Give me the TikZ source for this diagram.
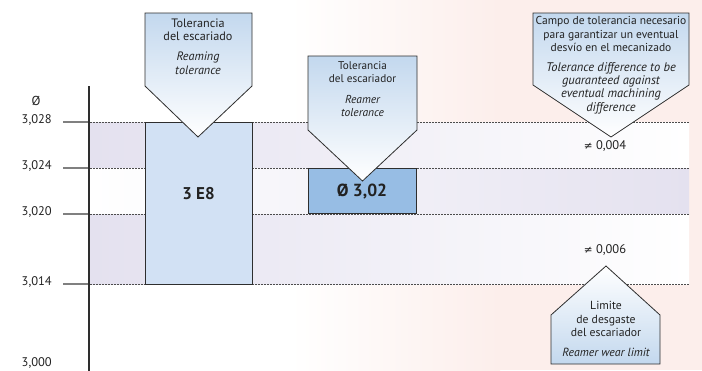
\documentclass[tikz,border=0pt]{standalone}
\usepackage{fontspec}
\setmainfont{PT Sans}
\newfontfamily\symfont{DejaVu Sans}
\definecolor{pinkbg}{HTML}{FCEEEB}
\definecolor{lav}{HTML}{E4E1EF}
\definecolor{boxa}{HTML}{D2E1F4}
\definecolor{boxb}{HTML}{97BDE4}
\definecolor{callblue}{HTML}{C3D8EE}
\definecolor{edge}{HTML}{2E2E2E}
\definecolor{txt}{HTML}{222222}
\tikzset{
  calltext/.style={align=center, inner sep=0pt, text=txt},
  calldown/.style={draw=edge, line width=0.8pt, top color=callblue, bottom color=white},
  callup/.style={draw=edge, line width=0.8pt, top color=white, bottom color=callblue},
  level/.style={draw=black!70, line width=0.7pt, dash pattern=on 2pt off 1pt},
  tick/.style={draw=black!50, line width=1.3pt},
  axlabel/.style={anchor=east, inner sep=0pt, font=\fontsize{12.5}{14}\selectfont, text=txt},
  valbox/.style={draw=edge, line width=0.9pt},
  diff/.style={inner sep=0pt, font=\fontsize{12.5}{14}\selectfont, text=txt}
}
\begin{document}
\begin{tikzpicture}[x=1pt,y=-1pt]
\useasboundingbox (0,0) rectangle (702,370);
\clip (0,0) rectangle (702,370);
% background
\fill[white] (0,0) rectangle (702,370);
\shade[left color=white, right color=pinkbg] (290,0) rectangle (500,370);
\fill[pinkbg] (500,0) rectangle (702,370);
% bands
\shade[left color=lav, right color=white] (90,122) rectangle (689,168);
\shade[left color=white, right color=lav] (90,168) rectangle (689,214);
\shade[left color=lav, right color=white] (90,214) rectangle (689,284);
% level coordinates
\coordinate (l1a) at (90,122); \coordinate (l1b) at (689,122);
\coordinate (l2a) at (90,168); \coordinate (l2b) at (689,168);
\coordinate (l3a) at (90,214); \coordinate (l3b) at (689,214);
\coordinate (l4a) at (90,284); \coordinate (l4b) at (689,284);
\coordinate (t1) at (63,122); \coordinate (t2) at (63,168);
\coordinate (t3) at (63,214); \coordinate (t4) at (63,284);
\draw[level] (l1a) -- (l1b);
\draw[level] (l2a) -- (l2b);
\draw[level] (l3a) -- (l3b);
\draw[level] (l4a) -- (l4b);
\draw[tick] (t1) -- (l1a);
\draw[tick] (t2) -- (l2a);
\draw[tick] (t3) -- (l3a);
\draw[tick] (t4) -- (l4a);
% axis
\coordinate (axtop) at (89,86); \coordinate (axbot) at (89,372);
\draw[edge, line width=2.4pt] (axtop) -- (axbot);
\node[inner sep=0pt, font=\fontsize{13}{14}\selectfont, text=txt] (phi) at (36,101) {Ø};
\node[axlabel] (v1) at (52,120) {3,028};
\node[axlabel] (v2) at (52,166) {3,024};
\node[axlabel] (v3) at (52,212) {3,020};
\node[axlabel] (v4) at (52,282) {3,014};
\node[axlabel] (v5) at (52,363) {3,000};
% value boxes
\draw[valbox, fill=boxa] (145,122) rectangle (252,284);
\node[inner sep=0pt, font=\bfseries\fontsize{17}{18}\selectfont, text=txt] (e8) at (198.5,194) {3 E8};
\draw[valbox, fill=boxb] (308,168) rectangle (416,213);
\node[inner sep=0pt, font=\bfseries\fontsize{17.5}{18}\selectfont, text=txt] (d302) at (362,192) {Ø 3,02};
% callout 1
\draw[calldown] (145,13) -- (252,13) -- (252,86) -- (198,137) -- (145,86) -- cycle;
\node[calltext, font=\fontsize{12.2}{13.5}\selectfont] (c1a) at (198,30) {Tolerancia\\del escariado};
\node[calltext, font=\itshape\fontsize{12.2}{13.5}\selectfont] (c1b) at (198,63.5) {Reaming\\tolerance};
% callout 2
\draw[calldown] (308,56) -- (417,56) -- (417,130) -- (362.5,181) -- (308,130) -- cycle;
\node[calltext, font=\fontsize{11.2}{13}\selectfont] (c2a) at (362.5,72.5) {Tolerancia\\del escariador};
\node[calltext, font=\itshape\fontsize{11.5}{13.5}\selectfont] (c2b) at (362.5,106) {Reamer\\tolerance};
% callout 3
\draw[calldown] (533,13) -- (689,13) -- (689,85) -- (611,137) -- (533,85) -- cycle;
\node[calltext, font=\fontsize{11.5}{13.8}\selectfont] (c3a) at (611,34) {Campo de tolerancia necesario\\para garantizar un eventual\\desvío en el mecanizado};
\node[calltext, font=\itshape\fontsize{12.5}{13.3}\selectfont] (c3b) at (611,88) {Tolerance difference to be\\guaranteed against\\eventual machining\\difference};
% differences
\node[diff] (d1) at (605,146) {{\symfont\fontsize{10.5}{12}\selectfont ≠} 0,004};
\node[diff] (d2) at (605,250) {{\symfont\fontsize{10.5}{12}\selectfont ≠} 0,006};
% callout 4
\draw[callup] (606,266) -- (660,315) -- (660,364) -- (551,364) -- (551,315) -- cycle;
\node[calltext, font=\fontsize{11.7}{13.8}\selectfont] (c4a) at (606,319) {Limite\\de desgaste\\del escariador};
\node[calltext, font=\itshape\fontsize{11.8}{13.5}\selectfont] (c4b) at (606,352) {Reamer wear limit};
\end{tikzpicture}
\end{document}
